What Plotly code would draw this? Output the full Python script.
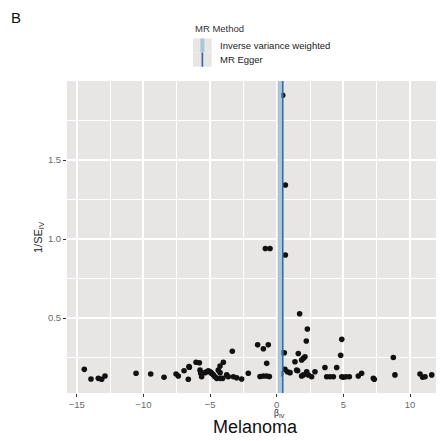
import plotly.graph_objects as go

# ---- data ----
beta_iv = [
    -14.43, -13.93, -13.38, -13.13, -12.88, -10.55, -9.45, -8.45, -7.55, -7.38,
    -6.95, -6.63, -6.55, -6.58, -6.05, -5.80, -5.75, -5.63, -5.38, -5.25,
    -5.13, -4.93, -5.70, -5.63, -5.00, -4.88, -4.75, -4.63, -4.50, -4.25,
    -4.05, -4.38, -4.25, -4.00, -4.25, -3.75, -3.63, -3.33, -3.25, -3.00,
    -2.63, -2.13, -1.25, -1.00, -0.75, -0.55, -0.75, -1.43, -1.00, -0.63,
    -0.85, -0.50, 0.30, 0.57, 0.30, 0.45, 0.65, 0.65, 0.62, 0.80,
    1.00, 1.50, 1.37, 1.62, 1.87, 2.00, 2.12, 1.72, 2.30, 2.22,
    1.57, 1.87, 2.25, 2.37, 2.00, 2.62, 2.87, 3.62, 3.75, 4.00,
    4.25, 4.50, 4.88, 4.80, 4.88, 5.00, 5.20, 5.45, 6.12, 6.37,
    7.25, 7.32, 8.75, 8.87, 10.75, 10.95, 11.13, 11.63,
]
inv_se_iv = [
    0.175, 0.114, 0.118, 0.112, 0.133, 0.150, 0.146, 0.125, 0.146, 0.133,
    0.166, 0.112, 0.188, 0.192, 0.220, 0.217, 0.170, 0.150, 0.154, 0.160,
    0.166, 0.154, 0.150, 0.128, 0.160, 0.150, 0.140, 0.128, 0.118, 0.118,
    0.118, 0.170, 0.196, 0.220, 0.154, 0.140, 0.128, 0.290, 0.128, 0.122,
    0.114, 0.150, 0.130, 0.133, 0.133, 0.130, 0.213, 0.330, 0.305, 0.330,
    0.940, 0.940, 0.280, 0.280, 0.145, 1.910, 1.342, 0.899, 0.175, 0.160,
    0.154, 0.170, 0.223, 0.275, 0.234, 0.245, 0.255, 0.527, 0.430, 0.354,
    0.166, 0.133, 0.160, 0.140, 0.140, 0.128, 0.160, 0.187, 0.128, 0.128,
    0.128, 0.187, 0.365, 0.264, 0.128, 0.125, 0.128, 0.128, 0.133, 0.150,
    0.118, 0.112, 0.250, 0.140, 0.146, 0.125, 0.128, 0.140,
]
methods = ["Inverse variance weighted", "MR Egger"]
method_beta = [0.22, 0.45]
method_colors = ["#A9C6DA", "#3A68A6"]
method_widths = [4, 1.7]

x_ticks = [-15, -10, -5, 0, 5, 10]
x_ticktext = ["\u221215", "\u221210", "\u22125", "0", "5", "10"]
y_ticks = [0.5, 1.0, 1.5]
y_ticktext = ["0.5", "1.0", "1.5"]

# ---- geometry helpers (target-page pixel -> paper); page body has 8px margin ----
OFF = 8
W, H = 444 - OFF, 441 - OFF
ML, MR, MT, MB = 67 - OFF, 0, 81 - OFF, 48
PW, PH = W - ML - MR, H - MT - MB


def px(x):
    return (x - OFF - ML) / PW


def py(y):
    return (H - MB - (y - OFF)) / PH


fig = go.Figure()
fig.add_trace(go.Scatter(
    x=beta_iv, y=inv_se_iv, mode="markers",
    marker=dict(color="#111111", size=5.6, line=dict(width=0)),
    showlegend=False, hoverinfo="skip",
))

shapes = []
for b, c, w in zip(method_beta, method_colors, method_widths):
    shapes.append(dict(type="line", xref="x", yref="y domain", x0=b, x1=b, y0=0, y1=1,
                       line=dict(color=c, width=w), layer="above"))

# legend (drawn manually, ggplot style)
key_x0, key_x1 = 193, 211.7
key_tops = [38.5, 52.6]
key_h = 14.1
for (top, c, w) in zip(key_tops, method_colors, method_widths):
    shapes.append(dict(type="rect", xref="paper", yref="paper",
                       x0=px(key_x0), x1=px(key_x1), y0=py(top + key_h), y1=py(top),
                       fillcolor="#E8E6E4", line=dict(width=0)))
    xc = (key_x0 + key_x1) / 2
    shapes.append(dict(type="line", xref="paper", yref="paper",
                       x0=px(xc), x1=px(xc), y0=py(top + key_h), y1=py(top),
                       line=dict(color=c, width=w)))

annotations = [
    dict(text="MR Method", x=px(193), y=py(29), xref="paper", yref="paper",
         xanchor="left", yanchor="middle", showarrow=False,
         font=dict(size=9.5, color="#333333")),
    dict(text="B", x=px(9), y=py(17), xref="paper", yref="paper",
         xanchor="left", yanchor="middle", showarrow=False,
         font=dict(size=15, color="#111111")),
    dict(text="1/SE<sub>IV</sub>", x=px(39), y=py(237), xref="paper", yref="paper",
         xanchor="center", yanchor="middle", showarrow=False, textangle=-90,
         font=dict(size=11, color="#222222")),
    dict(text="\u03b2<sub>IV</sub>", x=px(279), y=py(413), xref="paper", yref="paper",
         xanchor="center", yanchor="middle", showarrow=False,
         font=dict(size=8.5, color="#222222")),
    dict(text="Melanoma", x=px(255), y=py(427), xref="paper", yref="paper",
         xanchor="center", yanchor="middle", showarrow=False,
         font=dict(size=18, color="#111111")),
]
for top, m in zip(key_tops, methods):
    annotations.append(dict(text=m, x=px(217.5), y=py(top + key_h / 2), xref="paper", yref="paper",
                            xanchor="left", yanchor="middle", showarrow=False,
                            font=dict(size=9.5, color="#222222")))

fig.update_layout(
    width=W, height=H,
    margin=dict(l=ML, r=MR, t=MT, b=MB, pad=0),
    paper_bgcolor="white", plot_bgcolor="#E8E6E4",
    font=dict(family="Liberation Sans, Arial, sans-serif"),
    shapes=shapes, annotations=annotations, showlegend=False,
    xaxis=dict(range=[-15.73, 12.55], tickvals=x_ticks, ticktext=x_ticktext,
               showgrid=True, gridcolor="white", gridwidth=1.6, zeroline=False,
               ticks="outside", ticklen=3, tickwidth=1, tickcolor="#333333",
               tickfont=dict(size=9.5, color="#6a6a6a"), showline=False,
               minor=dict(tickvals=[-12.5, -7.5, -2.5, 2.5, 7.5, 12.5], showgrid=True,
                          gridcolor="white", gridwidth=0.7, ticks="")),
    yaxis=dict(range=[0.0253, 2.0], tickvals=y_ticks, ticktext=y_ticktext,
               showgrid=True, gridcolor="white", gridwidth=1.6, zeroline=False,
               ticks="outside", ticklen=3, tickwidth=1, tickcolor="#333333",
               tickfont=dict(size=9.5, color="#6a6a6a"), showline=False,
               minor=dict(tickvals=[0.25, 0.75, 1.25, 1.75], showgrid=True,
                          gridcolor="white", gridwidth=0.7, ticks="")),
)

fig.write_html("out.html")
